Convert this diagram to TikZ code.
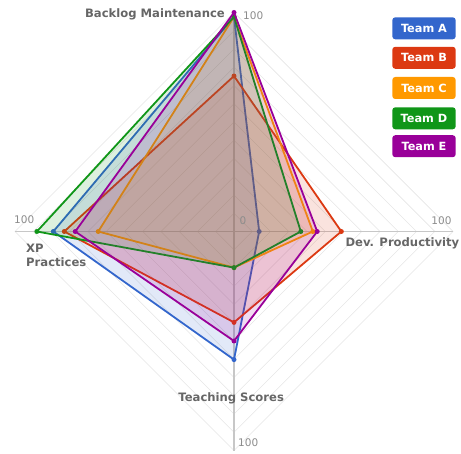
\documentclass[tikz,border=0pt]{standalone}
\usepackage{fontspec}
\setmainfont{DejaVu Sans}

\definecolor{teamA}{HTML}{3366CC}
\definecolor{teamB}{HTML}{DC3912}
\definecolor{teamC}{HTML}{FF9900}
\definecolor{teamD}{HTML}{109618}
\definecolor{teamE}{HTML}{990099}
\definecolor{labelgray}{HTML}{666666}
\definecolor{tickgray}{HTML}{8C8C8C}

\tikzset{
	gridline/.style={draw=black!10, line width=0.7pt},
	axisline/.style={draw=black!22, line width=1.4pt},
	series/.style={draw=#1, line width=1.8pt, fill=#1, fill opacity=0.14, line join=round},
	dot/.style={circle, fill=#1, inner sep=0pt, minimum size=5pt},
	axislabel/.style={text=labelgray, inner sep=0pt, font=\fontsize{11.6}{14.4}\selectfont\bfseries},
	ticklabel/.style={text=tickgray, inner sep=0pt, font=\fontsize{10.5}{12}\selectfont},
	legendbox/.style={fill=#1, text=white, rounded corners=3pt, inner sep=0pt,
		minimum width=63.4pt, minimum height=22pt, font=\fontsize{11.3}{13}\selectfont\bfseries}
}

\begin{document}
\begin{tikzpicture}[x=1pt,y=1pt]
	\useasboundingbox (0,0) rectangle (461,453);
	\begin{scope}[shift={(234,221.5)}]
		%grid diamonds
		\foreach \i in {1,...,12}{
			\pgfmathsetmacro\r{\i*219/12}
			\draw[gridline] (0:\r) -- (90:\r) -- (180:\r) -- (270:\r) -- cycle;
		}
		
		%axes
		\coordinate (top) at (90:219);
		\coordinate (right) at (0:219);
		\coordinate (bottom) at (270:219);
		\coordinate (left) at (180:219);
		\draw[axisline] (left) -- (right);
		\draw[axisline] (top) -- (bottom);
		
		%teams: backlog / productivity / teaching / xp
		\foreach \t/\pa/\pb/\pc/\pd in {A/98/11.5/58.5/82.5, B/71/49/41.5/77.5, C/98/36/16.5/62, D/98/30.5/16.5/90, E/100/38/50/72.5}{
			\coordinate (\t1) at (90:{\pa*2.19});
			\coordinate (\t2) at (0:{\pb*2.19});
			\coordinate (\t3) at (270:{\pc*2.19});
			\coordinate (\t4) at (180:{\pd*2.19});
			\draw[series=team\t] (\t1) -- (\t2) -- (\t3) -- (\t4) -- cycle;
			\foreach \k in {1,...,4}
				\node[dot=team\t] (\t\k-dot) at (\t\k) {};
		}
	\end{scope}
	
	%axis labels
	\node[axislabel, anchor=base east] (backlog) at (225,435.7) {Backlog Maintenance};
	\node[axislabel, anchor=base east] (prod) at (459.5,206) {Dev. Productivity};
	\node[axislabel, anchor=base] (teach) at (231.2,51.3) {Teaching Scores};
	\node[axislabel, anchor=base west, align=left] (xp) at (26,186.3) {XP\\Practices};
	
	%scale labels
	\node[ticklabel, anchor=base west] (zero) at (239.3,228) {0};
	\node[ticklabel, anchor=base west] (backlog100) at (243,433) {100};
	\node[ticklabel, anchor=base east] (prod100) at (451.7,228.7) {100};
	\node[ticklabel, anchor=base west] (teach100) at (238,6) {100};
	\node[ticklabel, anchor=base west] (xp100) at (14,229) {100};
	
	%legend
	\foreach \t/\y in {A/424.7, B/395.2, C/365, D/334.7, E/306.8}
		\node[legendbox=team\t] (leg\t) at (424,\y) {Team \t};
\end{tikzpicture}
\end{document}
